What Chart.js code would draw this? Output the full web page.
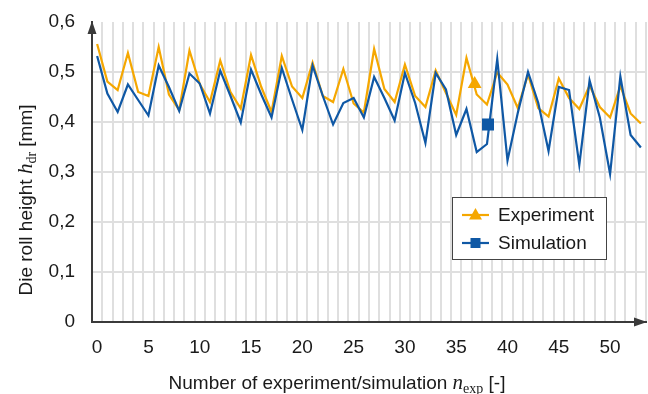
<!DOCTYPE html>
<html>
<head>
<meta charset="utf-8">
<script src="https://cdn.jsdelivr.net/npm/chart.js@4.4.1/dist/chart.umd.min.js"></script>
<style>
  html, body { margin: 0; padding: 0; background: #fff; }
  #wrap { width: 648px; height: 394px; }
</style>
</head>
<body>
<div id="wrap"><canvas id="c" width="648" height="394"></canvas></div>
<script>
// experiment / simulation number (x)
const runs = [0, 1, 2, 3, 4, 5, 6, 7, 8, 9, 10, 11, 12, 13, 14, 15, 16, 17, 18, 19,
  20, 21, 22, 23, 24, 25, 26, 27, 28, 29, 30, 31, 32, 33, 34, 35, 36, 37, 38, 39,
  40, 41, 42, 43, 44, 45, 46, 47, 48, 49, 50, 51, 52, 53];

// die roll height in mm
const experiment = [0.556, 0.481, 0.464, 0.538, 0.460, 0.452, 0.550, 0.455, 0.424, 0.543,
  0.476, 0.440, 0.523, 0.460, 0.427, 0.534, 0.470, 0.420, 0.532, 0.471,
  0.448, 0.519, 0.452, 0.440, 0.506, 0.437, 0.419, 0.546, 0.466, 0.440,
  0.515, 0.452, 0.430, 0.503, 0.458, 0.414, 0.528, 0.455, 0.435, 0.499,
  0.475, 0.428, 0.495, 0.428, 0.411, 0.487, 0.448, 0.426, 0.473, 0.430,
  0.409, 0.472, 0.417, 0.397];

const simulation = [0.532, 0.457, 0.420, 0.475, 0.444, 0.413, 0.513, 0.470, 0.422, 0.497,
  0.477, 0.417, 0.503, 0.452, 0.399, 0.505, 0.455, 0.409, 0.508, 0.445,
  0.384, 0.513, 0.452, 0.395, 0.438, 0.448, 0.409, 0.490, 0.448, 0.403,
  0.498, 0.438, 0.358, 0.498, 0.465, 0.374, 0.426, 0.340, 0.356, 0.526,
  0.323, 0.418, 0.500, 0.438, 0.342, 0.470, 0.464, 0.314, 0.483, 0.409,
  0.296, 0.491, 0.374, 0.349];

// single stray markers sitting in the plot
const expMarkerX = [36.8];
const expMarkerY = [0.476];
const simMarkerX = [38.1];
const simMarkerY = [0.395];

const xTicks = [0, 5, 10, 15, 20, 25, 30, 35, 40, 45, 50];
const yTicks = [0, 0.1, 0.2, 0.3, 0.4, 0.5, 0.6];

const ORANGE = "#f5a700";
const BLUE = "#0f58a5";
const GRID = "#dfdfdf";
const AXIS = "#3a3a3a";
const SANS = '"Liberation Sans", Arial, sans-serif';
const SERIF = '"Liberation Serif", "Times New Roman", serif';

Chart.defaults.font.family = SANS;
Chart.defaults.font.size = 19;
Chart.defaults.color = "#1a1a1a";

const toXY = (xs, ys) => xs.map((x, i) => ({ x: x, y: ys[i] }));

// draws text made of several font runs (for the math symbols)
function drawRuns(ctx, parts, x, y) {
  let w = 0;
  parts.forEach((p) => { ctx.font = p.font; w += ctx.measureText(p.t).width; });
  let cx = x - w / 2;
  parts.forEach((p) => {
    ctx.font = p.font;
    ctx.fillText(p.t, cx, y + (p.dy || 0));
    cx += ctx.measureText(p.t).width;
  });
}

const extras = {
  id: "extras",
  afterDraw(chart) {
    const ctx = chart.ctx;
    const a = chart.chartArea;
    ctx.save();

    // axis arrows
    ctx.fillStyle = AXIS;
    ctx.beginPath();
    ctx.moveTo(a.left, a.top - 1);
    ctx.lineTo(a.left - 4.5, a.top + 12);
    ctx.lineTo(a.left + 4.5, a.top + 12);
    ctx.closePath();
    ctx.fill();
    ctx.beginPath();
    ctx.moveTo(a.right + 1, a.bottom);
    ctx.lineTo(a.right - 12, a.bottom - 4.5);
    ctx.lineTo(a.right - 12, a.bottom + 4.5);
    ctx.closePath();
    ctx.fill();

    // axis titles
    ctx.fillStyle = "#1a1a1a";
    ctx.textBaseline = "alphabetic";
    ctx.textAlign = "left";
    drawRuns(ctx, [
      { t: "Number of experiment/simulation ", font: "19px " + SANS },
      { t: "n", font: "italic 21px " + SERIF },
      { t: "exp", font: "14px " + SERIF, dy: 4 },
      { t: " [-]", font: "19px " + SANS }
    ], 337, 389);

    ctx.save();
    ctx.translate(32, 200);
    ctx.rotate(-Math.PI / 2);
    drawRuns(ctx, [
      { t: "Die roll height ", font: "19px " + SANS },
      { t: "h", font: "italic 21px " + SERIF },
      { t: "dr", font: "14px " + SERIF, dy: 4 },
      { t: " [mm]", font: "19px " + SANS }
    ], 0, 0);
    ctx.restore();

    // legend
    const lx = 452.5, ly = 197.5, lw = 154, lh = 62;
    ctx.fillStyle = "#fff";
    ctx.fillRect(lx, ly, lw, lh);
    ctx.strokeStyle = "#444";
    ctx.lineWidth = 1;
    ctx.strokeRect(lx, ly, lw, lh);
    const rows = [
      { label: "Experiment", color: ORANGE, y: 215, mark: "tri" },
      { label: "Simulation", color: BLUE, y: 243, mark: "sq" }
    ];
    rows.forEach((r) => {
      ctx.strokeStyle = r.color;
      ctx.lineWidth = 2.2;
      ctx.beginPath();
      ctx.moveTo(462, r.y);
      ctx.lineTo(489, r.y);
      ctx.stroke();
      ctx.fillStyle = r.color;
      ctx.beginPath();
      if (r.mark === "tri") {
        ctx.moveTo(475.5, r.y - 7);
        ctx.lineTo(482, r.y + 4.5);
        ctx.lineTo(469, r.y + 4.5);
      } else {
        ctx.rect(470.5, r.y - 5, 10, 10);
      }
      ctx.closePath();
      ctx.fill();
      ctx.fillStyle = "#1a1a1a";
      ctx.font = "19px " + SANS;
      ctx.textBaseline = "middle";
      ctx.fillText(r.label, 498, r.y + 1);
    });
    ctx.restore();
  }
};

new Chart(document.getElementById("c"), {
  type: "line",
  data: {
    datasets: [
      {
        label: "Experiment marker",
        data: toXY(expMarkerX, expMarkerY),
        showLine: false,
        pointStyle: "triangle",
        pointRadius: 8,
        backgroundColor: ORANGE,
        borderColor: ORANGE,
        borderWidth: 0,
        order: 0
      },
      {
        label: "Simulation marker",
        data: toXY(simMarkerX, simMarkerY),
        showLine: false,
        pointStyle: "rect",
        pointRadius: 8.5,
        backgroundColor: BLUE,
        borderColor: BLUE,
        borderWidth: 0,
        order: 0
      },
      {
        label: "Simulation",
        data: toXY(runs, simulation),
        borderColor: BLUE,
        borderWidth: 2.2,
        pointRadius: 0,
        tension: 0,
        fill: false,
        order: 1
      },
      {
        label: "Experiment",
        data: toXY(runs, experiment),
        borderColor: ORANGE,
        borderWidth: 2.2,
        pointRadius: 0,
        tension: 0,
        fill: false,
        order: 2
      }
    ]
  },
  options: {
    responsive: false,
    animation: false,
    layout: { autoPadding: false, padding: { top: 22, right: 2, left: 0, bottom: 0 } },
    plugins: { legend: { display: false }, tooltip: { enabled: false } },
    scales: {
      x: {
        type: "linear",
        min: -0.5,
        max: 53.5,
        afterBuildTicks: (s) => { s.ticks = xTicks.map((v) => ({ value: v })); },
        afterFit: (s) => { s.height = 72; s.paddingLeft = 0; s.paddingRight = 0; },
        ticks: { padding: 14, autoSkip: false, maxRotation: 0 },
        grid: { display: false, drawTicks: false },
        border: { display: true, color: AXIS, width: 2 }
      },
      xg: {
        type: "linear",
        position: "bottom",
        min: -0.5,
        max: 53.5,
        afterBuildTicks: (s) => {
          s.ticks = runs.map((r) => ({ value: r - 0.5 })).concat([{ value: 53.5 }]);
        },
        afterFit: (s) => { s.height = 0; },
        ticks: { display: false },
        grid: { color: GRID, lineWidth: 2, drawTicks: false },
        border: { display: false }
      },
      y: {
        min: 0,
        max: 0.6,
        afterBuildTicks: (s) => { s.ticks = yTicks.map((v) => ({ value: v })); },
        afterFit: (s) => { s.width = 92; s.paddingTop = 0; s.paddingBottom = 0; },
        ticks: {
          padding: 17,
          callback: (v) => (v === 0 ? "0" : v.toFixed(1).replace(".", ","))
        },
        grid: {
          drawTicks: false,
          lineWidth: 2,
          color: (c) => (c.tick && c.tick.value >= 0.6 ? "rgba(0,0,0,0)" : GRID)
        },
        border: { display: true, color: AXIS, width: 2 }
      }
    }
  },
  plugins: [extras]
});
</script>
</body>
</html>
